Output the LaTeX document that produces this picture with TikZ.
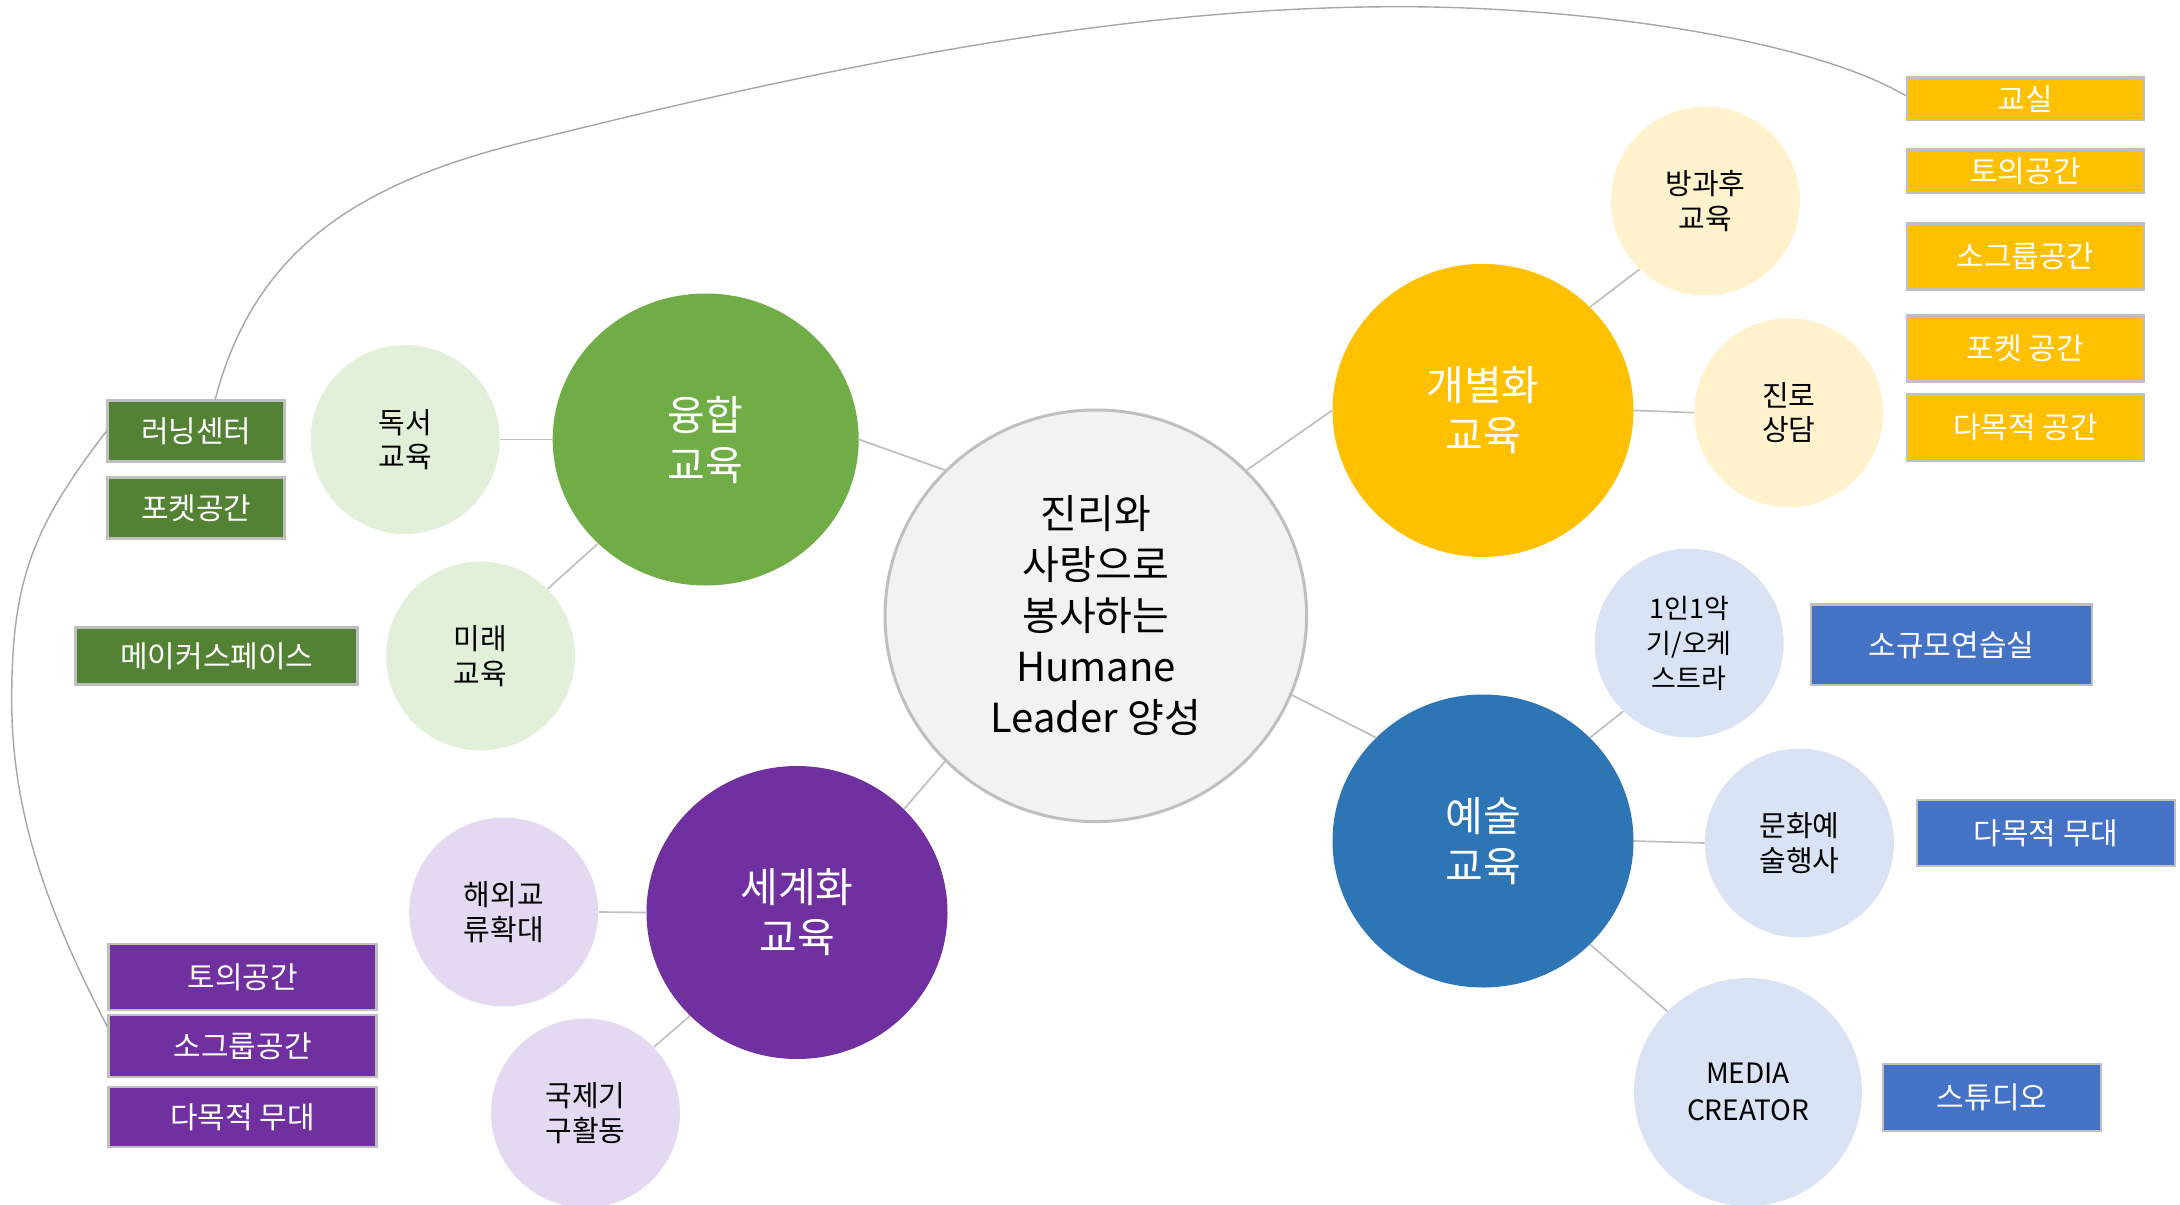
\documentclass[tikz,border=0pt]{standalone}
\usepackage{fontspec}
\setmainfont{Noto Sans CJK KR}
\usetikzlibrary{shapes.geometric,calc}
\definecolor{cgreen}{HTML}{70AD47}
\definecolor{lgreen}{HTML}{E2F0D9}
\definecolor{cyellow}{HTML}{FFC000}
\definecolor{lyellow}{HTML}{FFF2CC}
\definecolor{cblue}{HTML}{2E75B6}
\definecolor{lblue}{HTML}{DAE3F3}
\definecolor{cpurple}{HTML}{7030A0}
\definecolor{lpurple}{HTML}{E5D8F1}
\definecolor{bgreen}{HTML}{548235}
\definecolor{byellow}{HTML}{FFC000}
\definecolor{bblue}{HTML}{4472C4}
\definecolor{bpurple}{HTML}{7030A0}
\definecolor{hubfill}{HTML}{F2F2F2}
\definecolor{hubline}{HTML}{BFBFBF}
\definecolor{linkgray}{HTML}{BFBFBF}
\definecolor{arcgray}{HTML}{A6A6A6}
\definecolor{boxline}{HTML}{BFBFBF}
\begin{document}
\begin{tikzpicture}[x=0.5pt,y=-0.5pt,
  hubnode/.style={ellipse, draw=hubline, line width=1.5pt, fill=hubfill, minimum width=210.8pt, minimum height=205.8pt, inner sep=0pt, align=center, font=\fontsize{20}{25.5}\selectfont},
  mainnode/.style={ellipse, minimum width=150.5pt, minimum height=146.5pt, inner sep=0pt, text=white, align=center, font=\fontsize{20.5}{25}\selectfont},
  subnode/.style={circle, minimum size=94.5pt, inner sep=0pt, align=center, font=\fontsize{14.5}{17.2}\selectfont},
  boxnode/.style={rectangle, draw=boxline, line width=1.35pt, text=white, inner sep=0pt, font=\fontsize{15}{18}\selectfont},
  linkline/.style={draw=linkgray, line width=0.85pt},
  arcline/.style={draw=arcgray, line width=0.7pt}
]
\useasboundingbox (0,0) rectangle (2180,1205);
\clip (0,0) rectangle (2180,1205);

% hub and main circles
\node[hubnode] (hub) at (1095.8,615.8) {진리와\\사랑으로\\봉사하는\\Humane\\Leader 양성};
\node[mainnode, fill=cgreen, minimum width=153pt, minimum height=146pt] (yung) at (705.7,439.5) {융합\\교육};
\node[mainnode, fill=cyellow] (gae) at (1483,410.4) {개별화\\교육};
\node[mainnode, fill=cblue] (ye) at (1483,841) {예술\\교육};
\node[mainnode, fill=cpurple] (se) at (797,912.5) {세계화\\교육};

% sub circles
\node[subnode, fill=lgreen] (dok) at (405.2,439.5) {독서\\교육};
\node[subnode, fill=lgreen] (mi) at (480.5,656) {미래\\교육};
\node[subnode, fill=lyellow] (bang) at (1705.4,201) {방과후\\교육};
\node[subnode, fill=lyellow] (jin) at (1788.7,412.7) {진로\\상담};
\node[subnode, fill=lblue, font=\fontsize{13.5}{17.5}\selectfont] (ak) at (1689.2,643) {1인1악\\기/오케\\스트라};
\node[subnode, fill=lblue] (mun) at (1799.4,843) {문화예\\술행사};
\node[subnode, fill=lblue, minimum size=114pt, font=\fontsize{14}{18.5}\selectfont] (med) at (1748,1092) {MEDIA\\CREATOR};
\node[subnode, fill=lpurple] (hae) at (503.7,912) {해외교\\류확대};
\node[subnode, fill=lpurple] (guk) at (585.5,1113) {국제기\\구활동};

% connectors
\draw[linkline] (yung.east) -- (hub.136);
\draw[linkline] (gae.west) -- (hub.44);
\draw[linkline] (ye.136) -- (hub.-22);
\draw[linkline] (se.44) -- (hub.224);
\draw[linkline] (dok.east) -- (yung.west);
\draw[linkline] (mi.45) -- (yung.224);
\draw[linkline] (bang.226) -- (gae.44);
\draw[linkline] (jin.west) -- (gae.east);
\draw[linkline] (ak.226) -- (ye.44);
\draw[linkline] (mun.west) -- (ye.east);
\draw[linkline] (med.135) -- (ye.-44);
\draw[linkline] (hae.east) -- (se.west);
\draw[linkline] (guk.44) -- (se.224);

% green boxes
\node[boxnode, fill=bgreen, minimum width=88.5pt, minimum height=30.5pt] (lc) at (196.3,431.2) {러닝센터};
\node[boxnode, fill=bgreen, minimum width=88.5pt, minimum height=30.5pt] (pk) at (196.3,507.8) {포켓공간};
\node[boxnode, fill=bgreen, minimum width=141pt, minimum height=28.5pt] (mk) at (216.8,656) {메이커스페이스};

% purple boxes
\node[boxnode, fill=bpurple, minimum width=134pt, minimum height=33pt] (pt) at (242.7,977) {토의공간};
\node[boxnode, fill=bpurple, minimum width=134pt, minimum height=31pt] (sg) at (242.7,1046) {소그룹공간};
\node[boxnode, fill=bpurple, minimum width=134pt, minimum height=30pt] (pm) at (242.7,1117) {다목적 무대};

% yellow boxes
\node[boxnode, fill=byellow, minimum width=118.5pt, minimum height=21.2pt] (kyo) at (2025.5,98.8) {교실};
\node[boxnode, fill=byellow, minimum width=118.5pt, minimum height=21.5pt] (yt) at (2025.5,170.8) {토의공간};
\node[boxnode, fill=byellow, minimum width=118.5pt, minimum height=33pt] (ys) at (2025.5,256.4) {소그룹공간};
\node[boxnode, fill=byellow, minimum width=118.5pt, minimum height=33pt] (yp) at (2025.5,348.3) {포켓 공간};
\node[boxnode, fill=byellow, minimum width=118.5pt, minimum height=33pt] (yd) at (2025.5,427.5) {다목적 공간};

% blue boxes
\node[boxnode, fill=bblue, minimum width=140.5pt, minimum height=40.2pt] (bs) at (1951.5,644.8) {소규모연습실};
\node[boxnode, fill=bblue, minimum width=129pt, minimum height=33pt] (bd) at (2046,833) {다목적 무대};
\node[boxnode, fill=bblue, minimum width=109pt, minimum height=33.5pt] (bt) at (1992,1097.5) {스튜디오};

% big curves
\coordinate (s1) at ($(lc.north west)!0.605!(lc.north east)$);
\coordinate (e1) at ($(kyo.north west)!0.43!(kyo.south west)$);
\coordinate (e2) at ($(sg.north west)!0.2!(sg.south west)$);
\draw[arcline] (s1) .. controls (255.5,245.9) and (362.7,180.8) .. (532.7,140)
  .. controls (882.7,52.5) and (1150,6.7) .. (1400,6.7)
  .. controls (1580,6.7) and (1807,37.7) .. (e1);
\draw[arcline] (lc.west) .. controls (33,526.7) and (11.7,580) .. (11.7,700)
  .. controls (11.7,810) and (45.6,908) .. (e2);
\end{tikzpicture}
\end{document}
